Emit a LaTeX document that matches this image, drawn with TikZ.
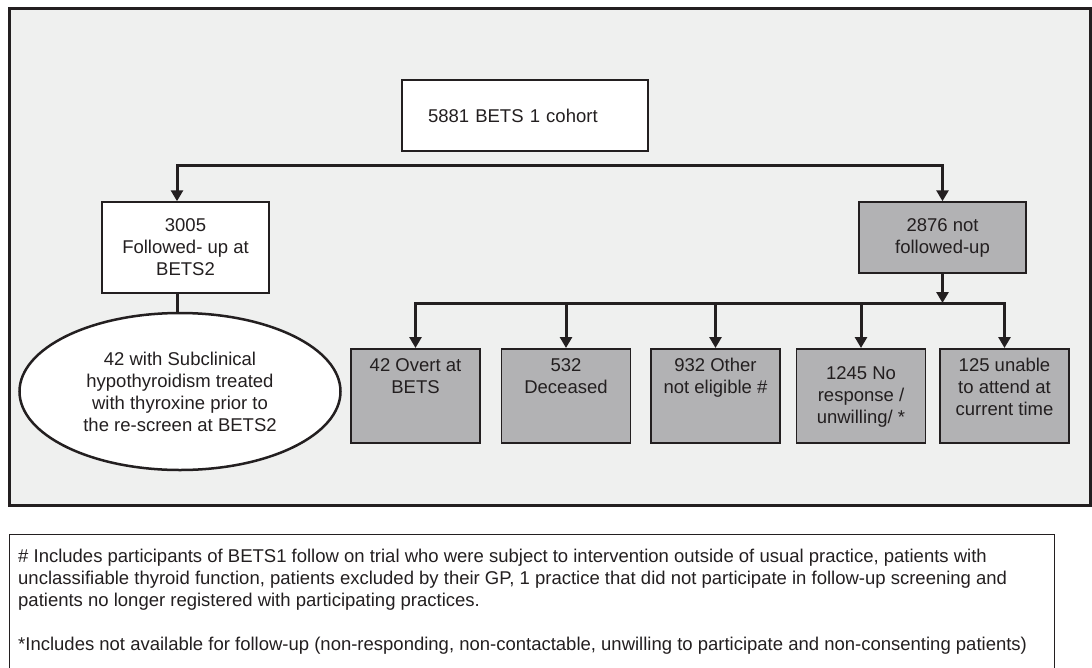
\documentclass[tikz,border=0pt]{standalone}
\usepackage{fontspec}
\setmainfont{Liberation Sans}
\usetikzlibrary{positioning,shapes.geometric,arrows.meta}
\definecolor{framebg}{RGB}{239,240,239}
\definecolor{boxgrey}{RGB}{178,178,180}
\definecolor{ink}{RGB}{35,31,32}

\begin{document}
\begin{tikzpicture}[x=1pt,y=-1pt,
	every node/.style={text=ink, font=\fontsize{18.5}{22}\selectfont},
	whitebox/.style={draw=ink, fill=white, line width=1.5pt, align=center, inner sep=0pt},
	greybox/.style={draw=ink, fill=boxgrey, line width=1.5pt, minimum width=129pt, minimum height=94pt, inner sep=0pt, anchor=north},
	boxtext/.style={anchor=north, align=center, inner sep=0pt, yshift=-10pt},
	line/.style={draw=ink, line width=3pt},
	arr/.style={line, -{Triangle[length=11pt,width=12pt]}},
	arrs/.style={line, {Triangle[length=11pt,width=12pt]}-{Triangle[length=11pt,width=12pt]}}
]
	\useasboundingbox (0,0) rectangle (1092,667);
	\draw[ink, line width=3pt, fill=framebg] (9,8) rectangle (1090,505);
	
	\node[whitebox, minimum width=246pt, minimum height=71pt, text width=194pt, align=left] (cohort) at (525,115.5) {5881 BETS 1 cohort};
	\node[whitebox, minimum width=167pt, minimum height=91pt] (fu) at (185.5,247.5) {3005\\Followed- up at\\BETS2};
	\node[whitebox, fill=boxgrey, minimum width=167pt, minimum height=71pt] (nfu) at (942.5,237.5) {2876 not\\followed-up};
	\node[ellipse, draw=ink, fill=white, line width=2.5pt, minimum width=321pt, minimum height=157pt, inner sep=0pt, align=center] (sub) at (180,391.5) {42 with Subclinical\\hypothyroidism treated\\with thyroxine prior to\\the re-screen at BETS2};
	
	\node[greybox, label={[boxtext]north:42 Overt at\\BETS}] (overt) at (415.5,348) {};
	\node[greybox, right=20pt of overt, label={[boxtext]north:532\\Deceased}] (dec) {};
	\node[greybox, right=19pt of dec, label={[boxtext]north:932 Other\\not eligible \#}] (other) {};
	\node[greybox, right=15pt of other, label={[boxtext, yshift=-8pt]north:1245 No\\response /\\unwilling/ *}] (noresp) {};
	\node[greybox, right=13pt of noresp, label={[boxtext]north:125 unable\\to attend at\\current time}] (unable) {};
	
	\coordinate (splitL) at (177,165);
	\coordinate (splitR) at (nfu.north |- splitL);
	\coordinate (branch) at (nfu.south |- overt.north);
	\coordinate (branch) at ([yshift=45pt]branch);
	
	\draw[arrs] (splitL |- fu.north) |- (splitR) -- (nfu.north);
	\draw[line] (fu.south -| splitL) -- (splitL |- sub.north);
	\draw[arr] (nfu.south) -- (branch);
	\draw[line, line cap=rect] (overt.north |- branch) -- (unable.north |- branch);
	\foreach \b in {overt,dec,other,noresp,unable}
		\draw[arr] (\b.north |- branch) -- (\b.north);
	
	\draw[ink, line width=0.8pt, fill=white] (9,534) rectangle (1054,680);
	\node[anchor=north west, align=left, inner sep=0pt] (note) at (18,549) {\# Includes participants of BETS1 follow on trial who were subject to intervention outside of usual practice, patients with\\
	unclassifiable thyroid function, patients excluded by their GP, 1 practice that did not participate in follow-up screening and\\
	patients no longer registered with participating practices.\\[22pt]
	*Includes not available for follow-up (non-responding, non-contactable, unwilling to participate and non-consenting patients)};
\end{tikzpicture}
\end{document}
